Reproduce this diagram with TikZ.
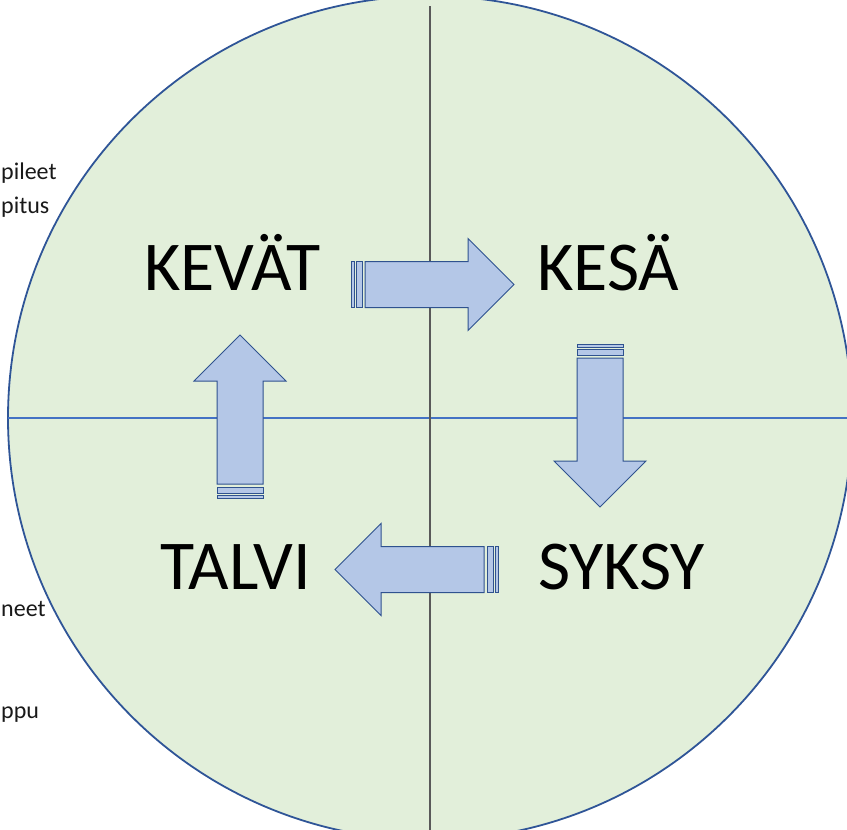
\documentclass[tikz,border=0pt]{standalone}
\usepackage{fontspec}
\setmainfont{Carlito}
\usetikzlibrary{positioning}
\definecolor{lightgreen}{HTML}{E2EFDA}
\definecolor{darkblue}{HTML}{2F5597}
\definecolor{arrowfill}{HTML}{B4C7E7}
\definecolor{arrowline}{HTML}{2F528F}
\definecolor{axisblue}{HTML}{4472C4}
\tikzstyle{season}=[anchor=base west,inner sep=0pt,font=\fontsize{70}{76}\selectfont]
\tikzstyle{side}=[anchor=base west,inner sep=0pt,text=black!90,font=\fontsize{24}{28}\selectfont]
\tikzstyle{blockarrow}=[draw=arrowline,fill=arrowfill,line width=1pt,line join=miter]
\tikzset{
  stripedarrow/.pic={
    \path[blockarrow] (0,-23) rectangle (3,23);
    \path[blockarrow] (5,-23) rectangle (11,23);
    \path[blockarrow] (14,-23) -- (117,-23) -- (117,-46) -- (163,0)
      -- (117,46) -- (117,23) -- (14,23) -- cycle;
  }
}
\begin{document}
\begin{tikzpicture}[x=1pt, y=-1pt]
  \useasboundingbox (0,0) rectangle (847,830);
  \clip (0,0) rectangle (847,830);

  % texts left of the circle
  \node[side] (t1) at (1,179) {pileet};
  \node[side] (t2) at (1,213) {pitus};
  \node[side] (t3) at (1,616) {neet};
  \node[side] (t4) at (1,718) {ppu};

  % the year circle
  \coordinate (c) at (430,418);
  \fill[lightgreen] (c) circle (422);
  \draw[darkblue, line width=1.8pt] (c) circle (422);
  \draw[axisblue, line width=1.5pt] (8,418) -- (847,418);
  \draw[black!65, line width=1.5pt] (430,6) -- (430,830);

  % seasons
  \node[season] (kevat) at (144,290) {KEVÄT};
  \node[season] (kesa) at (537,290) {KESÄ};
  \node[season] (syksy) at (538,589) {SYKSY};
  \node[season] (talvi) at (160,589) {TALVI};

  % arrows
  \coordinate (a1) at (351,284.5);
  \coordinate (a2) at (600,344);
  \coordinate (a3) at (498,569.5);
  \coordinate (a4) at (240,498);
  \pic at (a1) {stripedarrow};
  \pic[rotate=-90] at (a2) {stripedarrow};
  \pic[rotate=180] at (a3) {stripedarrow};
  \pic[rotate=90] at (a4) {stripedarrow};
\end{tikzpicture}
\end{document}
